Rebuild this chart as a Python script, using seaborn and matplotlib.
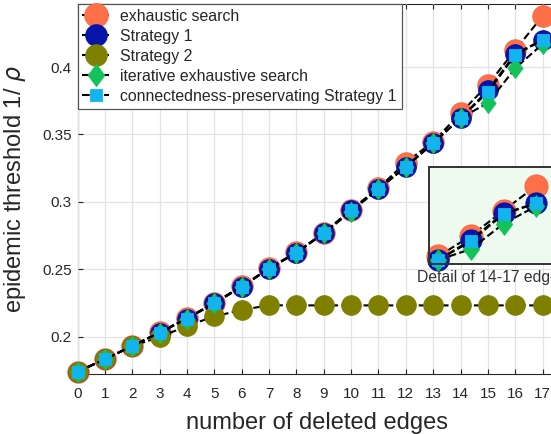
import matplotlib
matplotlib.use("Agg")
import matplotlib.pyplot as plt
import seaborn as sns

# number of deleted edges
edges = list(range(18))

# epidemic threshold 1/rho for each removal strategy
exhaustive = [0.1740, 0.1835, 0.1932, 0.2032, 0.2137, 0.2252, 0.2375, 0.2507, 0.2627,
              0.2770, 0.2942, 0.3103, 0.3292, 0.3446, 0.3659, 0.3869, 0.4127, 0.4379]
strategy1 = [0.1740, 0.1832, 0.1931, 0.2030, 0.2134, 0.2248, 0.2370, 0.2505, 0.2623,
             0.2767, 0.2940, 0.3096, 0.3260, 0.3436, 0.3622, 0.3827, 0.4099, 0.4201]
strategy2 = [0.1740, 0.1832, 0.1931, 0.1996, 0.2080, 0.2150, 0.2198, 0.2233, 0.2232,
             0.2232, 0.2232, 0.2232, 0.2232, 0.2232, 0.2232, 0.2232, 0.2232, 0.2232]
iterative = [0.1740, 0.1832, 0.1931, 0.2030, 0.2134, 0.2248, 0.2370, 0.2505, 0.2623,
             0.2767, 0.2928, 0.3096, 0.3260, 0.3436, 0.3622, 0.3734, 0.3992, 0.4171]
connected = [0.1740, 0.1832, 0.1931, 0.2030, 0.2134, 0.2248, 0.2370, 0.2505, 0.2623,
             0.2767, 0.2940, 0.3096, 0.3260, 0.3436, 0.3622, 0.3813, 0.4090, 0.4201]

series_names = ["exhaustic search", "Strategy 1", "Strategy 2",
                "iterative exhaustive search", "connectedness-preservating Strategy 1"]
series_values = [exhaustive, strategy1, strategy2, iterative, connected]

x_ticks = list(range(0, 18))
y_ticks = [0.2, 0.25, 0.3, 0.35, 0.4]
y_tick_labels = ["0.2", "0.25", "0.3", "0.35", "0.4"]
detail_edges = [14, 15, 16, 17]
detail_caption = "Detail of 14-17 edges"

sns.set_theme(style="whitegrid")
plt.rcParams["font.family"] = ["Liberation Sans", "DejaVu Sans"]
plt.rcParams["mathtext.fontset"] = "dejavusans"

INK = "#262626"
diamond = [(0, 1), (0.75, 0), (0, -1), (-0.75, 0), (0, 1)]
marker_styles = [
    dict(marker="o", markersize=15.5, markerfacecolor="#FF7048", markeredgecolor="#FF6040"),
    dict(marker="o", markersize=14.2, markerfacecolor="#0614A8", markeredgecolor="#0614A8"),
    dict(marker="o", markersize=14.2, markerfacecolor="#808000", markeredgecolor="#808000"),
    dict(marker=diamond, markersize=14.5, markerfacecolor="#14C25A", markeredgecolor="#14C25A"),
    dict(marker="s", markersize=8.5, markerfacecolor="#12B4EE", markeredgecolor="#12B4EE"),
]

W, H = 551, 434
fig = plt.figure(figsize=(W / 100, H / 100), dpi=100)
fig.patch.set_facecolor("white")

ax_left, ax_right, ax_top, ax_bottom = 77.5, 556.0, 4.0, 374.0
ax = fig.add_axes([ax_left / W, (H - ax_bottom) / H,
                   (ax_right - ax_left) / W, (ax_bottom - ax_top) / H])


def draw_series(target, xs, idx_slice, with_labels, scale=1.0, y_range=None):
    for name, vals, style in zip(series_names, series_values, marker_styles):
        ys = vals[idx_slice]
        # series lying wholly outside the view stay clipped by the axes
        inside = y_range is None or all(y_range[0] <= v <= y_range[1] for v in ys)
        st = dict(style)
        st["markersize"] = st["markersize"] * scale
        sns.lineplot(x=xs, y=ys, ax=target, color="black",
                     linestyle="--", linewidth=1.5, dashes=False,
                     markeredgewidth=0.6, errorbar=None, sort=False,
                     clip_on=not inside,
                     label=name if with_labels else None, legend=False, **st)


draw_series(ax, edges, slice(0, 18), True)

ax.set_xlim(0, (ax_right - ax_left) / 27.36)
ax.set_ylim(0.1723, 0.4468)
ax.set_xticks(x_ticks)
ax.set_xticklabels([str(t) for t in x_ticks])
ax.set_yticks(y_ticks)
ax.set_yticklabels(y_tick_labels)
ax.grid(True, color="#e3e3e3", linewidth=0.9)
ax.set_axisbelow(True)
for sp in ax.spines.values():
    sp.set_color(INK)
    sp.set_linewidth(0.8)
    sp.set_zorder(0.5)
ax.tick_params(axis="both", which="major", direction="in", length=3.5, width=0.8,
               color=INK, labelcolor=INK, labelsize=11, top=True, right=True,
               bottom=True, left=True)
ax.tick_params(axis="x", pad=9)
ax.tick_params(axis="y", pad=4)

ax.set_xlabel("number of deleted edges", fontsize=17, color=INK, labelpad=8)
ax.set_ylabel(r"epidemic threshold 1/ $\rho$", fontsize=17, color=INK, labelpad=10)

handles, labels = ax.get_legend_handles_labels()
leg = ax.legend(handles, labels, loc="upper left", bbox_to_anchor=(0, 1),
                borderaxespad=0, fontsize=11.4, frameon=True, fancybox=False,
                framealpha=1, edgecolor="#555555", borderpad=0.3,
                labelspacing=0.32, handlelength=1.7, handletextpad=0.7,
                markerscale=1.1)
leg.get_frame().set_linewidth(0.9)
leg.set_zorder(10)
for t in leg.get_texts():
    t.set_color(INK)

# zoomed detail of the last few removals
in_left, in_right, in_top, in_bottom = 428.7, 556.0, 166.7, 264.3
in_ylim = (0.3578, 0.4575)
ax_in = fig.add_axes([in_left / W, (H - in_bottom) / H,
                      (in_right - in_left) / W, (in_bottom - in_top) / H])
draw_series(ax_in, detail_edges, slice(14, 18), False, scale=1.08, y_range=in_ylim)
ax_in.set_xlim(14 - (438.3 - in_left) / 32.6, 14 + (in_right - 438.3) / 32.6)
ax_in.set_ylim(*in_ylim)
ax_in.set_facecolor("#EFFAEE")
ax_in.grid(False)
ax_in.set_xticks([])
ax_in.set_yticks([])
ax_in.set_xlabel("")
ax_in.set_ylabel("")
for sp in ax_in.spines.values():
    sp.set_color("#333333")
    sp.set_linewidth(1.4)
ax_in.text(0.5, -0.14, detail_caption, transform=ax_in.transAxes, ha="center",
           va="center", fontsize=11.3, color="#333333")

fig.savefig("out.png", dpi=100)
